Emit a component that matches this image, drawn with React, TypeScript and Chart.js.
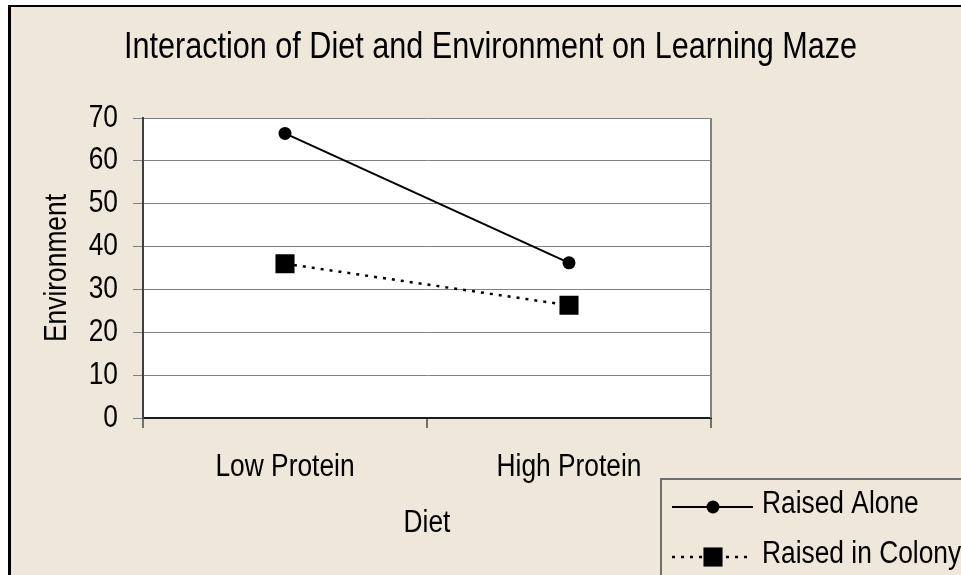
import React, { useEffect, useRef } from "react";
import { Chart, registerables } from "chart.js";

Chart.register(...registerables);

const categories = ["Low Protein", "High Protein"];
const seriesLabels = ["Raised Alone", "Raised in Colony"];
const raisedAlone = [66.4, 36.2];
const raisedInColony = [36, 26.3];
const yMin = 0;
const yMax = 70;
const yStep = 10;

const titleText = "Interaction of Diet and Environment on Learning Maze";
const xTitle = "Diet";
const yTitle = "Environment";

const FONT = '"Liberation Sans", Arial, sans-serif';
const BG = "#EFE7DA";
const TEXT_SQUEEZE = 0.85;

// Narrow (condensed) rendering of the text, as in the reference
const narrowTextPlugin = {
  id: "narrowText",
  beforeDraw(chart: any) {
    const ctx = chart.ctx as any;
    if (ctx.__narrow) return;
    const orig = ctx.fillText.bind(ctx);
    ctx.fillText = (text: string, x: number, y: number, maxWidth?: number) => {
      ctx.save();
      ctx.translate(x, y);
      ctx.scale(TEXT_SQUEEZE, 1);
      if (maxWidth !== undefined) orig(text, 0, 0, maxWidth / TEXT_SQUEEZE);
      else orig(text, 0, 0);
      ctx.restore();
    };
    ctx.__narrow = true;
  },
};

const framePlugin = {
  id: "frame",
  beforeDraw(chart: any) {
    const { ctx, width, height, chartArea } = chart;
    ctx.save();
    ctx.fillStyle = "#ffffff";
    ctx.fillRect(0, 0, width, height);
    ctx.fillStyle = BG;
    ctx.fillRect(8, 5, width - 8, height - 5);
    ctx.fillStyle = "#000000";
    ctx.fillRect(8, 5, 3, height - 5);
    ctx.fillRect(8, 5, width - 8, 2);
    ctx.fillStyle = "#ffffff";
    ctx.fillRect(chartArea.left, chartArea.top, chartArea.right - chartArea.left, chartArea.bottom - chartArea.top);
    ctx.restore();
  },
  beforeDatasetsDraw(chart: any) {
    const { ctx, chartArea } = chart;
    ctx.save();
    ctx.strokeStyle = "#808080";
    ctx.lineWidth = 2;
    ctx.beginPath();
    ctx.moveTo(chartArea.right, chartArea.top);
    ctx.lineTo(chartArea.right, chartArea.bottom);
    ctx.stroke();
    ctx.restore();
  },
};

const legendPlugin = {
  id: "customLegend",
  afterDraw(chart: any) {
    const { ctx, width, height } = chart;
    const x0 = 661;
    const y0 = 479;
    ctx.save();
    ctx.fillStyle = BG;
    ctx.fillRect(x0, y0, width - x0 + 10, height - y0 + 10);
    ctx.strokeStyle = "#6e6e6e";
    ctx.lineWidth = 2;
    ctx.strokeRect(x0, y0, width - x0 + 20, height - y0 + 20);
    chart.data.datasets.forEach((ds: any, i: number) => {
      const y = 507 + i * 50;
      ctx.strokeStyle = ds.borderColor;
      ctx.lineWidth = ds.borderWidth;
      ctx.setLineDash(ds.borderDash || []);
      ctx.beginPath();
      ctx.moveTo(672, y);
      ctx.lineTo(753, y);
      ctx.stroke();
      ctx.setLineDash([]);
      ctx.fillStyle = ds.pointBackgroundColor;
      if (ds.pointStyle === "circle") {
        ctx.beginPath();
        ctx.arc(713, y, ds.pointRadius, 0, Math.PI * 2);
        ctx.fill();
      } else {
        const s = ds.pointRadius * Math.SQRT1_2;
        ctx.fillRect(713 - s, y - s, 2 * s, 2 * s);
      }
      ctx.fillStyle = "#000000";
      ctx.font = `31px ${FONT}`;
      ctx.textAlign = "left";
      ctx.textBaseline = "middle";
      ctx.fillText(ds.label, 762, y - 3);
    });
    ctx.restore();
  },
};

export default function App() {
  const ref = useRef<HTMLCanvasElement | null>(null);
  useEffect(() => {
    if (!ref.current) return;
    const chart = new Chart(ref.current, {
      type: "line",
      data: {
        labels: categories,
        datasets: [
          {
            label: seriesLabels[0],
            data: raisedAlone,
            borderColor: "#000000",
            backgroundColor: "#000000",
            borderWidth: 2,
            pointStyle: "circle",
            pointRadius: 6.5,
            pointBackgroundColor: "#000000",
            pointBorderWidth: 0,
            tension: 0,
          },
          {
            label: seriesLabels[1],
            data: raisedInColony,
            borderColor: "#000000",
            backgroundColor: "#000000",
            borderWidth: 2.5,
            borderDash: [3, 6],
            pointStyle: "rect",
            pointRadius: 13.5,
            pointBackgroundColor: "#000000",
            pointBorderWidth: 0,
            tension: 0,
          },
        ],
      },
      options: {
        responsive: false,
        animation: false,
        devicePixelRatio: 1,
        layout: { padding: { left: 20, right: 0, top: 0, bottom: 0 } },
        plugins: {
          legend: { display: false },
          tooltip: { enabled: false },
          title: {
            display: true,
            text: titleText,
            color: "#000000",
            font: { family: FONT, size: 36, weight: "normal", lineHeight: 1.2 },
            padding: { top: 26, bottom: 48.8 },
          },
        },
        scales: {
          x: {
            type: "category",
            offset: true,
            grid: {
              display: true,
              offset: true,
              drawOnChartArea: false,
              drawTicks: true,
              tickLength: 10,
              color: "#707070",
              lineWidth: 2,
            },
            border: { display: true, color: "#1a1a1a", width: 2 },
            ticks: {
              color: "#000000",
              font: { family: FONT, size: 31, lineHeight: 1.2 },
              padding: 21,
              maxRotation: 0,
              autoSkip: false,
            },
            title: {
              display: true,
              text: xTitle,
              color: "#000000",
              font: { family: FONT, size: 31, lineHeight: 1.2 },
              padding: { top: 0, bottom: 33 },
            },
            afterFit(scale: any) {
              scale.height = 157;
            },
          },
          y: {
            type: "linear",
            min: yMin,
            max: yMax,
            grid: {
              color: "#808080",
              lineWidth: 1,
              drawTicks: true,
              tickLength: 10,
            },
            border: { display: true, color: "#404040", width: 2 },
            ticks: {
              stepSize: yStep,
              color: "#000000",
              font: { family: FONT, size: 31, lineHeight: 1.2 },
              padding: 15,
            },
            title: {
              display: true,
              text: yTitle,
              color: "#000000",
              font: { family: FONT, size: 31, lineHeight: 1.2 },
              padding: { top: 19, bottom: 0 },
            },
            afterFit(scale: any) {
              scale.width = 123;
            },
          },
          spacer: {
            type: "linear",
            position: "right",
            display: true,
            grid: { display: false, drawTicks: false },
            border: { display: false },
            ticks: { display: false },
            afterFit(scale: any) {
              scale.width = 250;
            },
          },
        },
      },
      plugins: [narrowTextPlugin, framePlugin, legendPlugin],
    } as any);
    return () => chart.destroy();
  }, []);
  return (
    <div style={{ position: "fixed", left: 0, top: 0, width: 961, height: 575, overflow: "hidden" }}>
      <canvas ref={ref} width={961} height={575} style={{ display: "block", width: 961, height: 575 }} />
    </div>
  );
}
